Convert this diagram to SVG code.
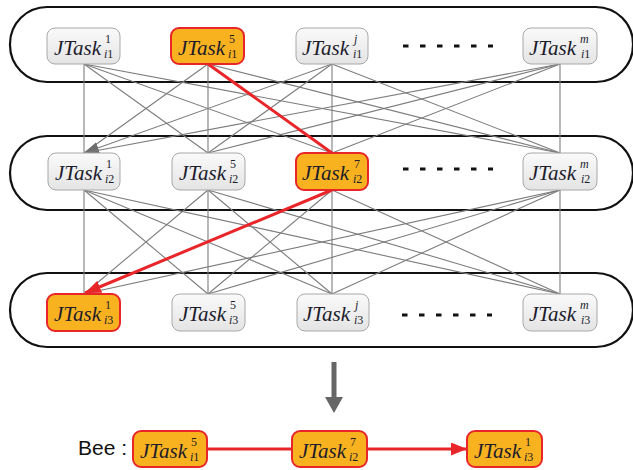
<svg xmlns="http://www.w3.org/2000/svg" width="633" height="470" viewBox="0 0 633 470">
  <defs>
    <linearGradient id="gGray" x1="0" y1="0" x2="0" y2="1">
      <stop offset="0" stop-color="#fafafa"/>
      <stop offset="1" stop-color="#e4e4e4"/>
    </linearGradient>
    <marker id="arrGray" markerUnits="userSpaceOnUse" markerWidth="16" markerHeight="12" refX="15" refY="6" orient="auto">
      <path d="M0,0 L15,6 L0,12 Z" fill="#6e6e6e"/>
    </marker>
    <marker id="arrRed" markerUnits="userSpaceOnUse" markerWidth="17" markerHeight="13" refX="16" refY="6.5" orient="auto">
      <path d="M0,0 L16,6.5 L0,13 Z" fill="#e8262a"/>
    </marker>
  </defs>
  <style>
    .band { fill: none; stroke: #111; stroke-width: 2.2; }
    .node { fill: url(#gGray); stroke: #a8a8a8; stroke-width: 1; }
    .sel { fill: #f9b21f; stroke: #e8262a; stroke-width: 2; }
    .edge { stroke: #7d7d7d; stroke-width: 1.1; fill: none; }
    .path { stroke: #e8262a; stroke-width: 3; fill: none; }
    .dots { stroke: #111; stroke-width: 3; stroke-dasharray: 5.5 11.5; }
    text { font-family: 'Liberation Serif', 'Times New Roman', serif; fill: #1c1c2c; }
    .lbl { font-style: italic; font-size: 21px; }
    .sc { font-size: 12px; }
    .it { font-style: italic; }
    text.bee { font-family: 'Liberation Sans', Arial, sans-serif; font-size: 21px; fill: #111; }
  </style>

  <!-- layer bands -->
  <g id="bands">
    <rect class="band" x="10" y="7" width="623" height="75" rx="37" ry="37"/>
    <rect class="band" x="10" y="136" width="623" height="74" rx="37" ry="37"/>
    <rect class="band" x="10" y="273" width="623" height="74" rx="37" ry="37"/>
  </g>

  <!-- connectors -->
  <g id="connectors">
    <!-- layer 1 to layer 2 -->
    <line class="edge" x1="84" y1="64" x2="84" y2="153"/>
    <line class="edge" x1="84" y1="64" x2="208" y2="153"/>
    <line class="edge" x1="84" y1="64" x2="332" y2="153"/>
    <line class="edge" x1="84" y1="64" x2="560" y2="153"/>
    <line class="edge" x1="208" y1="64" x2="84" y2="153"/>
    <line class="edge" x1="208" y1="64" x2="208" y2="153"/>
    <line class="edge" x1="208" y1="64" x2="560" y2="153"/>
    <line class="edge" x1="332" y1="64" x2="84" y2="153" marker-end="url(#arrGray)"/>
    <line class="edge" x1="332" y1="64" x2="208" y2="153"/>
    <line class="edge" x1="332" y1="64" x2="332" y2="153"/>
    <line class="edge" x1="332" y1="64" x2="560" y2="153"/>
    <line class="edge" x1="560" y1="64" x2="84" y2="153"/>
    <line class="edge" x1="560" y1="64" x2="208" y2="153"/>
    <line class="edge" x1="560" y1="64" x2="332" y2="153"/>
    <line class="edge" x1="560" y1="64" x2="560" y2="153"/>
    <!-- layer 2 to layer 3 -->
    <line class="edge" x1="84" y1="190" x2="84" y2="294"/>
    <line class="edge" x1="84" y1="190" x2="208" y2="294"/>
    <line class="edge" x1="84" y1="190" x2="332" y2="294"/>
    <line class="edge" x1="84" y1="190" x2="560" y2="294"/>
    <line class="edge" x1="208" y1="190" x2="84" y2="294"/>
    <line class="edge" x1="208" y1="190" x2="208" y2="294"/>
    <line class="edge" x1="208" y1="190" x2="332" y2="294"/>
    <line class="edge" x1="208" y1="190" x2="560" y2="294"/>
    <line class="edge" x1="332" y1="190" x2="208" y2="294"/>
    <line class="edge" x1="332" y1="190" x2="332" y2="294"/>
    <line class="edge" x1="332" y1="190" x2="560" y2="294"/>
    <line class="edge" x1="560" y1="190" x2="84" y2="294"/>
    <line class="edge" x1="560" y1="190" x2="208" y2="294"/>
    <line class="edge" x1="560" y1="190" x2="332" y2="294"/>
    <line class="edge" x1="560" y1="190" x2="560" y2="294"/>
    <!-- chosen route -->
    <line class="path" x1="208" y1="64" x2="332" y2="153"/>
    <line class="path" x1="332" y1="190" x2="85" y2="293" marker-end="url(#arrRed)"/>
    <!-- result arrow -->
    <line x1="334" y1="362" x2="334" y2="399" stroke="#666" stroke-width="5"/>
    <path d="M325,397 L343,397 L334,413 Z" fill="#666"/>
    <!-- bee chain -->
    <line class="path" x1="207" y1="449" x2="292" y2="449" stroke-width="2.5"/>
    <line class="path" x1="367" y1="449" x2="467" y2="449" stroke-width="2.5" marker-end="url(#arrRed)"/>
  </g>

  <!-- ellipsis marks -->
  <g id="ellipses">
    <line class="dots" x1="403" y1="46" x2="493" y2="46"/>
    <line class="dots" x1="403" y1="169" x2="493" y2="169"/>
    <line class="dots" x1="402" y1="315" x2="492" y2="315"/>
  </g>

  <!-- layer 1 -->
  <g id="t11">
    <rect class="node" x="47" y="28" width="73" height="36" rx="8"/>
    <text class="lbl" x="54" y="55">JTask</text>
    <text class="sc" x="105" y="43">1</text>
    <text class="sc" x="104" y="58"><tspan class="it">i</tspan>1</text>
  </g>
  <g id="t15">
    <rect class="sel" x="171" y="28" width="73" height="36" rx="8"/>
    <text class="lbl" x="178" y="55">JTask</text>
    <text class="sc" x="229" y="43">5</text>
    <text class="sc" x="228" y="58"><tspan class="it">i</tspan>1</text>
  </g>
  <g id="t1j">
    <rect class="node" x="296" y="28" width="72" height="36" rx="8"/>
    <text class="lbl" x="302" y="55">JTask</text>
    <text class="sc it" x="354" y="43">j</text>
    <text class="sc" x="353" y="58"><tspan class="it">i</tspan>1</text>
  </g>
  <g id="t1m">
    <rect class="node" x="523" y="28" width="74" height="36" rx="8"/>
    <text class="lbl" x="529" y="55">JTask</text>
    <text class="sc it" x="580" y="43">m</text>
    <text class="sc" x="581" y="58"><tspan class="it">i</tspan>1</text>
  </g>

  <!-- layer 2 -->
  <g id="t21">
    <rect class="node" x="48" y="153" width="72" height="37" rx="8"/>
    <text class="lbl" x="55" y="180">JTask</text>
    <text class="sc" x="106" y="168">1</text>
    <text class="sc" x="105" y="183"><tspan class="it">i</tspan>2</text>
  </g>
  <g id="t25">
    <rect class="node" x="172" y="153" width="73" height="37" rx="8"/>
    <text class="lbl" x="179" y="180">JTask</text>
    <text class="sc" x="230" y="168">5</text>
    <text class="sc" x="229" y="183"><tspan class="it">i</tspan>2</text>
  </g>
  <g id="t27">
    <rect class="sel" x="296" y="153" width="72" height="37" rx="8"/>
    <text class="lbl" x="302" y="180">JTask</text>
    <text class="sc" x="354" y="168">7</text>
    <text class="sc" x="353" y="183"><tspan class="it">i</tspan>2</text>
  </g>
  <g id="t2m">
    <rect class="node" x="523" y="153" width="74" height="37" rx="8"/>
    <text class="lbl" x="529" y="180">JTask</text>
    <text class="sc it" x="580" y="168">m</text>
    <text class="sc" x="581" y="183"><tspan class="it">i</tspan>2</text>
  </g>

  <!-- layer 3 -->
  <g id="t31">
    <rect class="sel" x="47" y="294" width="73" height="37" rx="8"/>
    <text class="lbl" x="54" y="321">JTask</text>
    <text class="sc" x="105" y="309">1</text>
    <text class="sc" x="104" y="324"><tspan class="it">i</tspan>3</text>
  </g>
  <g id="t35">
    <rect class="node" x="172" y="294" width="73" height="37" rx="8"/>
    <text class="lbl" x="179" y="321">JTask</text>
    <text class="sc" x="230" y="309">5</text>
    <text class="sc" x="229" y="324"><tspan class="it">i</tspan>3</text>
  </g>
  <g id="t3j">
    <rect class="node" x="297" y="294" width="72" height="37" rx="8"/>
    <text class="lbl" x="303" y="321">JTask</text>
    <text class="sc it" x="355" y="309">j</text>
    <text class="sc" x="354" y="324"><tspan class="it">i</tspan>3</text>
  </g>
  <g id="t3m">
    <rect class="node" x="523" y="294" width="74" height="37" rx="8"/>
    <text class="lbl" x="529" y="321">JTask</text>
    <text class="sc it" x="580" y="309">m</text>
    <text class="sc" x="581" y="324"><tspan class="it">i</tspan>3</text>
  </g>

  <!-- resulting bee -->
  <g id="bee">
    <text class="bee" x="78" y="455">Bee :</text>
  </g>
  <g id="b1">
    <rect class="sel" x="133" y="431" width="74" height="36" rx="8"/>
    <text class="lbl" x="140" y="458">JTask</text>
    <text class="sc" x="191" y="446">5</text>
    <text class="sc" x="190" y="461"><tspan class="it">i</tspan>1</text>
  </g>
  <g id="b2">
    <rect class="sel" x="292" y="431" width="75" height="36" rx="8"/>
    <text class="lbl" x="299" y="458">JTask</text>
    <text class="sc" x="350" y="446">7</text>
    <text class="sc" x="349" y="461"><tspan class="it">i</tspan>2</text>
  </g>
  <g id="b3">
    <rect class="sel" x="467" y="431" width="75" height="36" rx="8"/>
    <text class="lbl" x="474" y="458">JTask</text>
    <text class="sc" x="525" y="446">1</text>
    <text class="sc" x="524" y="461"><tspan class="it">i</tspan>3</text>
  </g>
</svg>
